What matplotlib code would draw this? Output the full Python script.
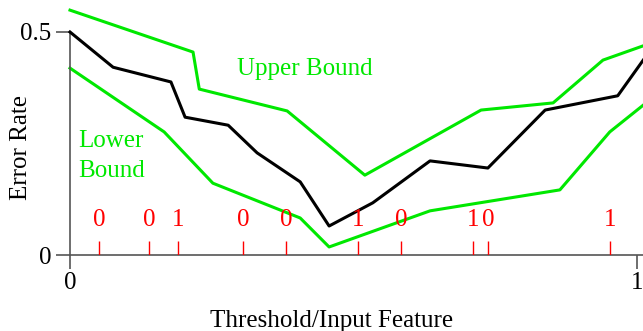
import matplotlib
matplotlib.use("Agg")
from matplotlib import pyplot as plt

plt.rcParams['font.family'] = ['Liberation Serif', 'DejaVu Serif']
plt.rcParams['font.size'] = 18

# error rate vs threshold
err_x = [0, 0.076, 0.178, 0.203, 0.279, 0.330, 0.406, 0.457, 0.534, 0.635, 0.737, 0.838, 0.966, 1.011]
err_y = [0.5, 0.421, 0.388, 0.309, 0.291, 0.229, 0.164, 0.065, 0.117, 0.211, 0.195, 0.325, 0.357, 0.437]

upper_x = [0, 0.217, 0.228, 0.383, 0.520, 0.725, 0.852, 0.940, 1.011]
upper_y = [0.549, 0.455, 0.372, 0.323, 0.179, 0.325, 0.341, 0.437, 0.469]

lower_x = [0, 0.166, 0.252, 0.406, 0.457, 0.635, 0.864, 0.952, 1.011]
lower_y = [0.419, 0.276, 0.161, 0.083, 0.018, 0.099, 0.146, 0.276, 0.336]

# training samples (feature value, class label)
sample_x = [0.051, 0.140, 0.190, 0.305, 0.381, 0.508, 0.584, 0.711, 0.737, 0.953]
sample_lab = ["0", "0", "1", "0", "0", "1", "0", "1", "0", "1"]

green = '#00e800'
axcol = '#555555'

fig = plt.figure(figsize=(6.43, 3.31), dpi=100)
ax = fig.add_axes([70/643, 76/331, 567/643, 223/331])
ax.set_xlim(0, 1)
ax.set_ylim(0, 0.5)

ax.plot(upper_x, upper_y, color=green, lw=2.2, clip_on=False, zorder=2)
ax.plot(lower_x, lower_y, color=green, lw=2.2, clip_on=False, zorder=2)
ax.plot(err_x, err_y, color='black', lw=2.2, clip_on=False, zorder=3)

# sample marks along the axis
ax.vlines(sample_x, 0, 0.031, color='red', lw=1, zorder=4)
for x, lab in zip(sample_x, sample_lab):
    ax.text(x, 0.065, lab, color='red', ha='center', va='baseline', zorder=5)

ax.text(0.295, 0.404, "Upper Bound", color=green, ha='left', va='baseline')
ax.text(0.014, 0.242, "Lower", color=green, ha='left', va='baseline')
ax.text(0.014, 0.175, "Bound", color=green, ha='left', va='baseline')

for s in ['top', 'right']:
    ax.spines[s].set_visible(False)
ax.spines['left'].set_bounds(0, 0.5)
ax.spines['bottom'].set_bounds(0, 1.02)
for s in ['left', 'bottom']:
    ax.spines[s].set_color(axcol)
    ax.spines[s].set_linewidth(1.2)

ax.set_xticks([0, 1], ["0", "1"])
ax.set_yticks([0, 0.5], ["0", "0.5"])
ax.tick_params(axis='both', direction='out', length=10, width=1.2, color=axcol)
ax.tick_params(axis='x', pad=2)
ax.tick_params(axis='y', pad=3.5)

ax.set_xlabel("Threshold/Input Feature", va='baseline')
ax.xaxis.set_label_coords(0.462, -0.323)
ax.set_ylabel("Error Rate", va='center')
ax.yaxis.set_label_coords(-0.087, 0.48)

plt.savefig("out.png", dpi=100)
